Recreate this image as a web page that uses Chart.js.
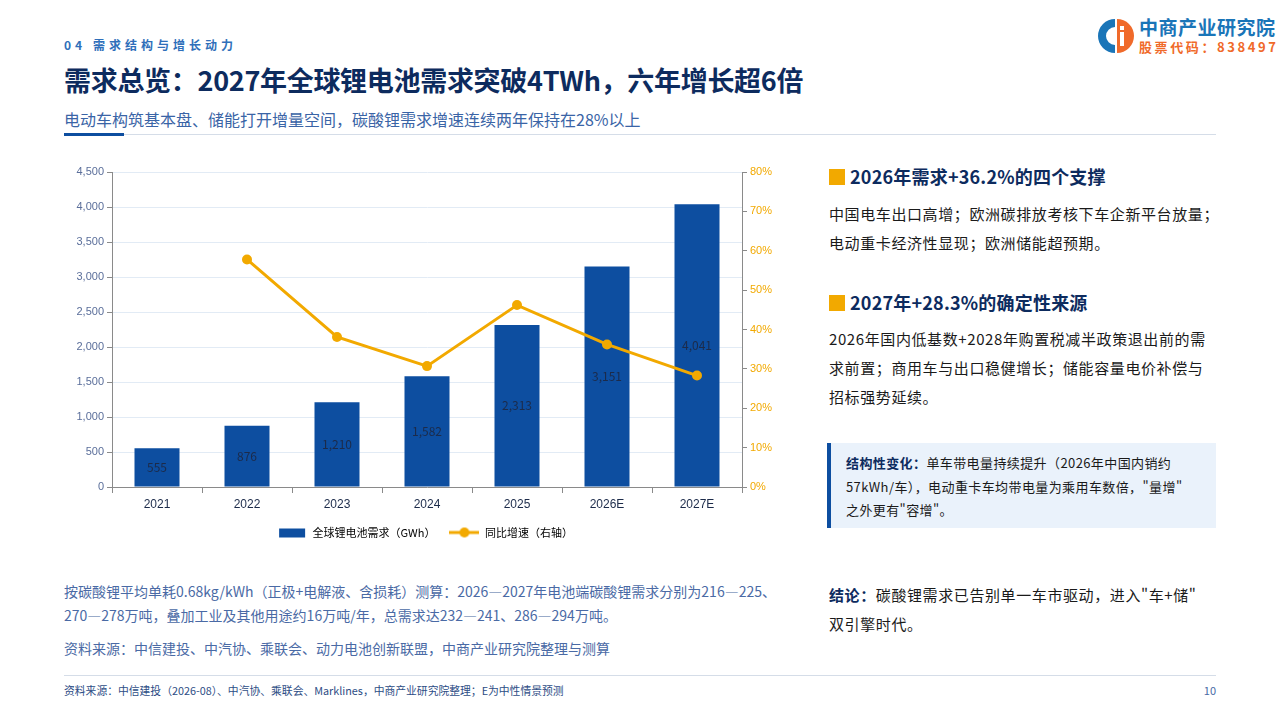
<!DOCTYPE html>
<html lang="zh-CN">
<head>
  <meta charset="UTF-8" />
  <title>需求总览</title>
  <script src="https://cdn.jsdelivr.net/npm/chart.js"></script>
  <style>
    :root { --navy:#0d2b5e; --blue:#0d4ea0; --orange:#f2a900; --muted:#4a6aa5; }
    html, body { margin:0; padding:0; }
    body { width:1280px; height:720px; position:relative; overflow:hidden; background:#fff;
           font-family:"Noto Sans CJK SC","Noto Sans",sans-serif; color:#222; }
    .abs { position:absolute; white-space:nowrap; }
    #crumb { left:64px; top:36px; font-size:12px; font-weight:700; color:#2f6fba; letter-spacing:4px; line-height:18px; }
    #title { left:64px; top:62px; font-size:27px; font-weight:700; color:var(--navy); line-height:36px; letter-spacing:-0.3px; }
    #subtitle { left:64px; top:108px; font-size:16px; color:#3a64a6; line-height:22px; }
    #rule { left:124px; top:134px; width:1092px; height:1px; background:#d5dde8; }
    #ruleBold { left:64px; top:133px; width:60px; height:3px; background:var(--blue); }
    #logoText { left:1139px; top:15px; font-size:19px; font-weight:700; color:#1a75b8; line-height:24px; letter-spacing:0.5px; }
    #logoCode { left:1139px; top:38px; font-size:13px; font-weight:700; color:#f06a2a; line-height:17px; letter-spacing:2.6px; }
    #logoIcon { left:1096px; top:17px; }
    #chartBox { left:60px; top:160px; width:730px; height:390px; }
    .note { left:64px; font-size:14px; color:var(--muted); line-height:20px; }
    .h { left:829px; font-size:18px; font-weight:700; color:var(--navy); line-height:24px; letter-spacing:0.2px; }
    .h:before { content:""; display:inline-block; width:16px; height:16px; background:var(--orange); margin-right:5px; vertical-align:-1px; }
    .p { left:829px; font-size:15px; line-height:29px; color:#1a1a1a; letter-spacing:0.6px; }
    #box { left:827px; top:443px; width:385px; height:85px; background:#eaf2fb; border-left:4px solid var(--blue); }
    #boxText { left:846px; top:451px; font-size:13px; line-height:23.5px; color:#1a1a1a; letter-spacing:0.4px; }
    b.k { color:var(--navy); }
    #footRule { left:64px; top:675px; width:1152px; height:1px; background:#d5dde8; }
    #foot { left:64px; top:683px; font-size:10.8px; color:#2d4d85; line-height:14px; }
    #page { right:64px; top:683px; font-size:11px; color:var(--muted); line-height:14px; }
  </style>
</head>
<body>
  <div id="crumb" class="abs">04 需求结构与增长动力</div>
  <div id="title" class="abs">需求总览：2027年全球锂电池需求突破4TWh，六年增长超6倍</div>
  <div id="subtitle" class="abs">电动车构筑基本盘、储能打开增量空间，碳酸锂需求增速连续两年保持在28%以上</div>
  <div id="rule" class="abs"></div>
  <div id="ruleBold" class="abs"></div>

  <svg id="logoIcon" class="abs" width="38" height="38" viewBox="0 0 38 38">
    <path d="M19 2 A17 17 0 0 0 19 36 L19 28 A9 9 0 0 1 19 10 Z" fill="#1a75b8"/>
    <path d="M21 2 A17 17 0 0 1 21 36 Z" fill="#f06a2a"/>
    <rect x="24" y="9" width="4" height="4" fill="#fff"/>
    <rect x="24" y="15" width="4" height="14" fill="#fff"/>
  </svg>
  <div id="logoText" class="abs">中商产业研究院</div>
  <div id="logoCode" class="abs">股票代码：838497</div>

  <div id="chartBox" class="abs"><canvas id="demandChart"></canvas></div>

  <div class="abs note" style="top:581px">按碳酸锂平均单耗0.68kg/kWh（正极+电解液、含损耗）测算：2026—2027年电池端碳酸锂需求分别为216—225、</div>
  <div class="abs note" style="top:605px">270—278万吨，叠加工业及其他用途约16万吨/年，总需求达232—241、286—294万吨。</div>
  <div class="abs note" style="top:638px">资料来源：中信建投、中汽协、乘联会、动力电池创新联盟，中商产业研究院整理与测算</div>

  <div class="abs h" style="top:164px">2026年需求+36.2%的四个支撑</div>
  <div class="abs p" style="top:199px">中国电车出口高增；欧洲碳排放考核下车企新平台放量；<br>电动重卡经济性显现；欧洲储能超预期。</div>
  <div class="abs h" style="top:290px">2027年+28.3%的确定性来源</div>
  <div class="abs p" style="top:324px">2026年国内低基数+2028年购置税减半政策退出前的需<br>求前置；商用车与出口稳健增长；储能容量电价补偿与<br>招标强势延续。</div>

  <div id="box" class="abs"></div>
  <div id="boxText" class="abs"><b class="k">结构性变化：</b>单车带电量持续提升（2026年中国内销约<br>57kWh/车），电动重卡车均带电量为乘用车数倍，"量增"<br>之外更有"容增"。</div>

  <div class="abs p" style="top:580px"><b class="k">结论：</b>碳酸锂需求已告别单一车市驱动，进入"车+储"<br>双引擎时代。</div>

  <div id="footRule" class="abs"></div>
  <div id="foot" class="abs">资料来源：中信建投（2026-08）、中汽协、乘联会、Marklines，中商产业研究院整理；E为中性情景预测</div>
  <div id="page" class="abs">10</div>

  <script>
    const years = ['2021', '2022', '2023', '2024', '2025', '2026E', '2027E'];
    const demandGWh = [555, 876, 1210, 1582, 2313, 3151, 4041];
    const growthPct = [null, 57.8, 38.1, 30.7, 46.2, 36.2, 28.3];
    const leftTicks = [0, 500, 1000, 1500, 2000, 2500, 3000, 3500, 4000, 4500];
    const rightTicks = [0, 10, 20, 30, 40, 50, 60, 70, 80];

    const BLUE = '#0d4ea0';
    const ORANGE = '#f2a900';
    const AXIS = '#8a8a8a';
    const GRID = '#e2ebf5';

    // little images for the legend markers
    function legendImg(draw) {
      const c = document.createElement('canvas');
      c.width = 30; c.height = 12;
      draw(c.getContext('2d'));
      return c;
    }
    const barMark = legendImg(g => { g.fillStyle = BLUE; g.fillRect(2, 2, 26, 9); });
    const lineMark = legendImg(g => {
      g.strokeStyle = ORANGE; g.lineWidth = 3;
      g.beginPath(); g.moveTo(0, 6); g.lineTo(30, 6); g.stroke();
      g.fillStyle = ORANGE; g.beginPath(); g.arc(15, 6, 5, 0, Math.PI * 2); g.fill();
    });

    // value labels in the middle of each bar (bars are dataset 1)
    const barLabels = {
      id: 'barLabels',
      afterDatasetsDraw(chart) {
        const ctx = chart.ctx;
        const meta = chart.getDatasetMeta(1);
        ctx.save();
        ctx.font = '12px "Noto Sans CJK SC", sans-serif';
        ctx.fillStyle = '#1c2b4a';
        ctx.textAlign = 'center';
        ctx.textBaseline = 'middle';
        meta.data.forEach((bar, i) => {
          const mid = (bar.y + bar.base) / 2;
          ctx.fillText(demandGWh[i].toLocaleString('en-US'), bar.x, mid);
        });
        ctx.restore();
      }
    };

    new Chart(document.getElementById('demandChart'), {
      type: 'bar',
      data: {
        labels: years,
        datasets: [
          { type: 'line', label: '同比增速（右轴）', data: growthPct, yAxisID: 'y1',
            borderColor: ORANGE, backgroundColor: ORANGE, borderWidth: 3,
            pointRadius: 5, pointHoverRadius: 5, pointBackgroundColor: ORANGE, pointBorderWidth: 0,
            spanGaps: false, order: 0 },
          { label: '全球锂电池需求（GWh）', data: demandGWh, yAxisID: 'y',
            backgroundColor: BLUE, categoryPercentage: 1, barPercentage: 0.5, order: 1 }
        ]
      },
      plugins: [barLabels],
      options: {
        responsive: true,
        maintainAspectRatio: false,
        animation: false,
        layout: { padding: { top: 12, right: 0, left: 0, bottom: 2 } },
        plugins: {
          tooltip: { enabled: false },
          legend: {
            position: 'bottom',
            reverse: true,
            labels: {
              usePointStyle: true, pointStyleWidth: 30, boxHeight: 11, padding: 14,
              color: '#333', font: { size: 11, family: '"Noto Sans CJK SC", sans-serif' },
              generateLabels(chart) {
                return chart.data.datasets.map((ds, i) => ({
                  text: ds.label, datasetIndex: i, hidden: false,
                  pointStyle: ds.type === 'line' ? lineMark : barMark,
                  fillStyle: 'transparent', strokeStyle: 'transparent', lineWidth: 0
                }));
              }
            }
          }
        },
        scales: {
          x: {
            grid: { display: true, drawOnChartArea: false, offset: true, tickLength: 6, tickColor: AXIS },
            border: { color: AXIS },
            ticks: { color: '#1c2b4a', font: { size: 12 }, padding: 4 },
            afterFit(s) { s.height = 26; }
          },
          y: {
            position: 'left', min: 0, max: 4500,
            afterBuildTicks(s) { s.ticks = leftTicks.map(v => ({ value: v })); },
            grid: { color: GRID, tickColor: AXIS, tickLength: 5 },
            border: { color: AXIS },
            ticks: { color: '#5a6e9a', font: { size: 11 }, padding: 3,
                     callback: v => v.toLocaleString('en-US') },
            afterFit(s) { s.width = 52; }
          },
          y1: {
            position: 'right', min: 0, max: 80,
            afterBuildTicks(s) { s.ticks = rightTicks.map(v => ({ value: v })); },
            grid: { drawOnChartArea: false, tickColor: AXIS, tickLength: 5 },
            border: { color: AXIS },
            ticks: { color: ORANGE, font: { size: 11 }, padding: 3, callback: v => v + '%' },
            afterFit(s) { s.width = 48; }
          }
        }
      }
    });
  </script>
</body>
</html>
